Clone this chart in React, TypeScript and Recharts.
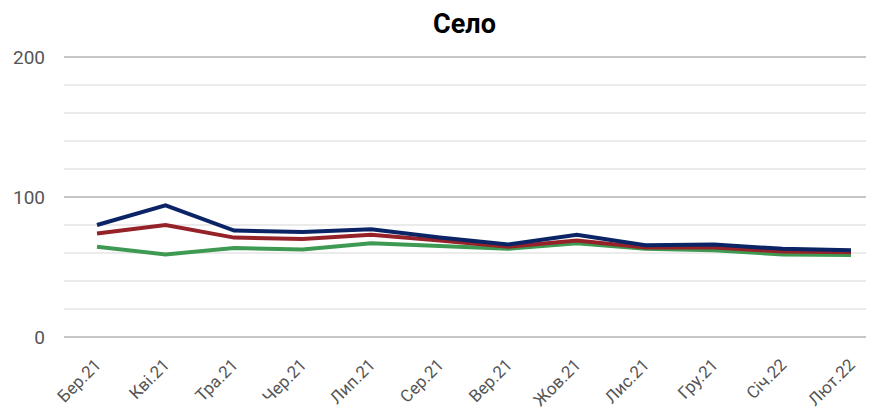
import React from 'react';
import { LineChart, Line, XAxis, YAxis, ReferenceLine } from 'recharts';

const months = ['Бер.21', 'Кві.21', 'Тра.21', 'Чер.21', 'Лип.21', 'Сер.21', 'Вер.21', 'Жов.21', 'Лис.21', 'Гру.21', 'Січ.22', 'Лют.22'];
const navySeries = [80, 94, 76, 75, 77, 71, 66, 73, 65.5, 66, 63, 62];
const redSeries = [74, 80, 71, 70, 73, 69, 64.5, 69, 64, 64, 61, 60.5];
const greenSeries = [64.5, 59, 63.5, 62.5, 67, 65, 63, 67, 63, 62, 59, 58.5];
const majorTicks = [0, 100, 200];
const minorTicks = [20, 40, 60, 80, 120, 140, 160, 180];

const data = months.map((m, i) => ({
  name: m,
  navy: navySeries[i],
  red: redSeries[i],
  green: greenSeries[i],
}));

const XTick = (props: any) => {
  const { x, y, payload } = props;
  const ax = x + 5;
  const ay = y + 21;
  return (
    <text
      x={ax}
      y={ay}
      transform={`rotate(-45, ${ax}, ${ay})`}
      textAnchor="end"
      fill="#555"
      fontSize={17}
      fontFamily="Roboto"
    >
      {payload.value}
    </text>
  );
};

const App: React.FC = () => {
  return (
    <div style={{ position: 'absolute', left: 0, top: 0, width: 881, height: 411, background: '#fff' }}>
      <div
        style={{
          position: 'absolute',
          left: 0,
          width: 929,
          top: 8,
          textAlign: 'center',
          fontFamily: 'Roboto',
          fontWeight: 'bold',
          fontSize: 27,
          color: '#000',
        }}
      >
        Село
      </div>
      <LineChart width={881} height={411} data={data} margin={{ top: 57, right: 15, bottom: 0, left: 0 }}>
        {minorTicks.map((t) => (
          <ReferenceLine key={t} y={t} stroke="#ebebeb" strokeWidth={2} />
        ))}
        {majorTicks.map((t) => (
          <ReferenceLine key={'m' + t} y={t} stroke="#c6c6c6" strokeWidth={2} />
        ))}
        <XAxis
          dataKey="name"
          axisLine={false}
          tickLine={false}
          height={74}
          interval={0}
          padding={{ left: 33, right: 15 }}
          tick={<XTick />}
        />
        <YAxis
          domain={[0, 200]}
          ticks={majorTicks}
          width={64}
          axisLine={false}
          tickLine={false}
          tickSize={0}
          tickMargin={19}
          tick={{ fill: '#555', fontSize: 19, fontFamily: 'Roboto' }}
        />
        <Line type="linear" dataKey="green" stroke="#3e9a52" strokeWidth={4} dot={false} isAnimationActive={false} />
        <Line type="linear" dataKey="red" stroke="#962229" strokeWidth={4} dot={false} isAnimationActive={false} />
        <Line type="linear" dataKey="navy" stroke="#0b2465" strokeWidth={4} dot={false} isAnimationActive={false} />
      </LineChart>
    </div>
  );
};

export default App;
